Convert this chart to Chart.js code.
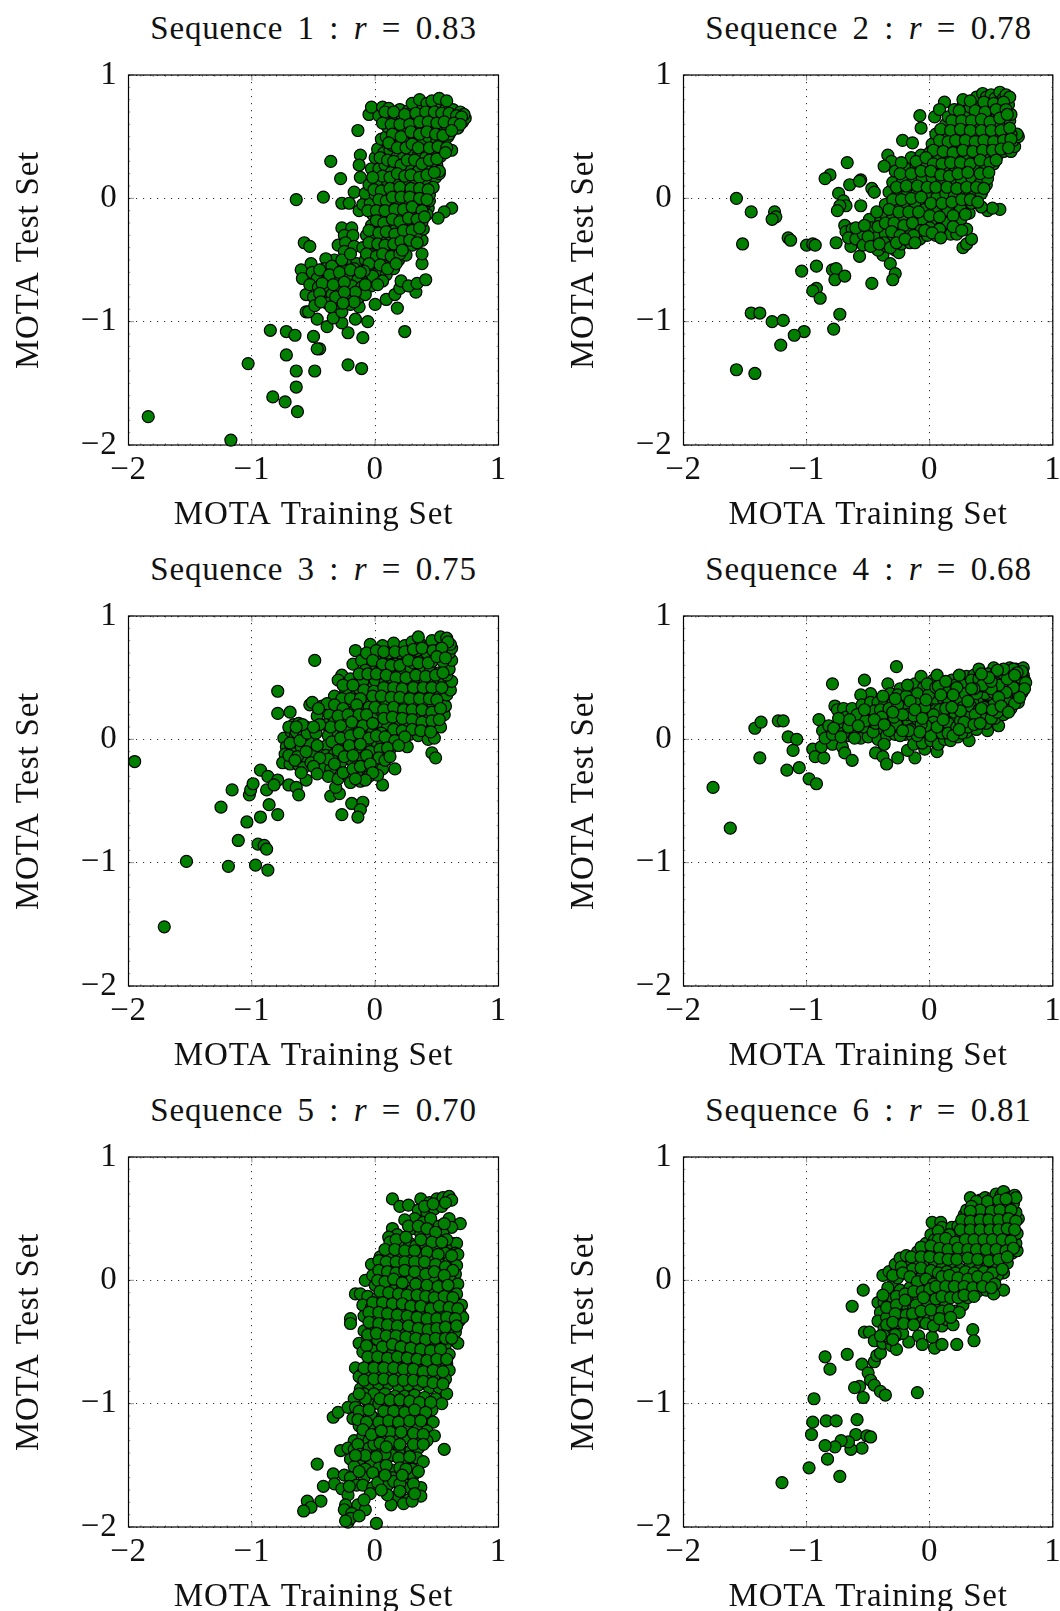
<!DOCTYPE html>
<html>
<head>
<meta charset="utf-8">
<title>MOTA scatter</title>
<script src="https://cdn.jsdelivr.net/npm/chart.js@4/dist/chart.umd.min.js"></script>
<style>
html, body { margin: 0; padding: 0; background: #fff; }
body { position: relative; width: 1060px; height: 1611px; overflow: hidden; }
canvas { position: absolute; }
.seqTitle {
  position: absolute; width: 530px; text-align: center; white-space: nowrap; color: #111;
  font: 33px "Liberation Serif", serif; letter-spacing: 0.8px; word-spacing: 5.4px; line-height: 36px;
}
</style>
</head>
<body>
<script>
// [training, test]
const seq1 = [[-1.84,-1.77],[-1.17,-1.96],[-1.03,-1.34],[-.85,-1.07],[-.72,-1.08],[-.65,-1.11],[-.72,-1.27],[-.64,-1.4],[-.64,-1.53],[-.83,-1.61],[-.73,-1.65],[-.63,-1.73],[-.5,-1.12],[-.45,-1.22],[-.47,-1.22],[-.49,-1.4],[-.22,-1.35],[-.11,-1.38],[-.22,-1.09],[-.1,-1.13],[.24,-1.08],[-.39,-1.04],[-.27,-1.01],[-.34,-.97],[-.16,-.98],[-.06,-1],[.18,-.89],[-.47,-.98],[-.56,-.92],[-.54,-.92],[-.27,-.92],[-.13,-.88],[0,-.86],[.09,-.82],[.16,-.78],[.2,-.73],[.21,-.67],[.33,-.76],[.27,-.71],[.34,-.69],[.41,-.66],[.38,-.53],[.38,-.45],[.38,-.34],[.62,-.08],[.56,-.11],[.51,-.16],[.43,-.08],[-.64,-.01],[-.42,.01],[-.27,-.04],[-.21,-.04],[-.17,.05],[-.13,-.1],[-.28,.16],[-.36,.3],[-.14,.55],[-.12,.35],[-.13,.27],[-.12,.17],[-.575,-.36],[-.53,-.39],[-.6,-.58],[-.59,-.65],[-.56,-.78],[-.52,-.53],
[-.27,-.24],[-.19,-.24],[-.25,-.3],[-.18,-.3],[-.3,-.38],[-.24,-.36],[-.17,-.39],[-.25,-.43],[-.33,-.5],[-.4,-.49],[-.3,-.55],[-.22,-.5],[-.15,-.53],[-.41,-.57],[-.34,-.6],[-.25,-.58],[-.17,-.57],[-.51,-.6],[-.47,-.65],[-.39,-.66],[-.31,-.65],[-.22,-.63],[-.14,-.66],[-.06,-.65],[-.53,-.7],[-.46,-.72],[-.37,-.74],[-.28,-.72],[-.19,-.71],[-.11,-.72],[-.03,-.71],[-.5,-.8],[-.42,-.8],[-.35,-.78],[-.3,-.85],[-.22,-.8],[-.13,-.8],[-.08,-.78],[-.49,-.87],[-.39,-.85],[-.2,-.86],
[-.1,-.4],[-.04,-.44],[.03,-.41],[.1,-.43],[.17,-.41],[.24,-.38],[.3,-.38],[-.08,-.5],[-.01,-.52],[.07,-.5],[.13,-.53],[.19,-.5],[.25,-.46],[-.05,-.59],[.03,-.6],[.09,-.62],[.15,-.57],[-.07,-.3],[0,-.33],[.06,-.3],[.13,-.35],[.2,-.31],[.27,-.3],[.34,-.28],[.39,-.25],[-.03,-.22],[.04,-.24],[.1,-.22],[.17,-.25],[.24,-.2],[.31,-.22],[.38,-.19],[.42,-.13],[-.02,-.13],[.06,-.15],[.14,-.12],[.21,-.14],[.28,-.11],[.35,-.12],[-.1,-.05],[-.04,-.04],[.04,-.07],[.11,-.04],[.19,-.06],[.25,-.02],[.32,-.03],[.4,-.05],[.44,-.02],[-.08,.04],[0,.03],[.08,.02],[.16,.05],[.24,.06],[.32,.04],[.38,.07],[.44,.03],[-.05,.11],[.03,.11],[.1,.14],[.17,.13],[.25,.14],[.33,.12],[.41,.12],[.49,.17],[.52,.2],[.47,.09],
[-.03,.24],[.03,.24],[.08,.27],[.13,.21],[.2,.29],[.28,.24],[.35,.22],[.44,.25],[.5,.27],[.52,.22],[0,.33],[.02,.4],[.07,.37],[.12,.39],[.18,.34],[.23,.33],[.29,.36],[.35,.35],[.41,.33],[.47,.38],[.53,.34],[.54,.42],[.05,.48],[.09,.5],[.14,.43],[.21,.45],[.27,.5],[.32,.49],[.38,.45],[.43,.5],[.5,.47],[.56,.46],[.62,.39],[.59,.5],[.1,.58],[.18,.55],[.25,.56],[.32,.58],[.4,.55],[.46,.58],[.52,.55],[.59,.57],[.62,.6],[.67,.57],[.6,.52],[-.05,.68],[.03,.67],[.1,.63],[.16,.66],[.22,.64],[.31,.65],[.39,.66],[.47,.65],[.55,.66],[.62,.65],[.68,.64],[.71,.62],[.73,.65],[-.03,.74],[.06,.74],[.11,.73],[.2,.72],[.27,.71],[.35,.72],[.44,.73],[.5,.74],[.57,.72],[.63,.72],[.69,.7],[.72,.68],[.3,.77],[.36,.8],[.42,.77],[.46,.79],[.52,.81],[.58,.79]];
const seq1More = [[.08,.7],[.15,.7],[.24,.68],[.33,.69],[.41,.7],[.48,.7],[.54,.69],[.6,.69],[.66,.67],[.7,.66],[.06,.61],[.13,.6],[.2,.6],[.28,.6],[.36,.62],[.43,.62],[.5,.61],[.56,.62],[.64,.61],[.69,.6],[.14,.52],[.21,.5],[.29,.54],[.36,.52],[.42,.54],[.49,.52],[.55,.51],[.62,.55],[.11,.45],[.18,.41],[.25,.41],[.3,.44],[.35,.41],[.44,.41],[.51,.42],[.58,.41],[.04,.33],[.1,.31],[.15,.3],[.21,.27],[.26,.31],[.32,.31],[.38,.28],[.44,.31],[.5,.32],[.57,.37],[.06,.18],[.12,.17],[.18,.2],[.24,.18],[.29,.19],[.36,.17],[.42,.19],[.48,.21],[-.02,.17],[-.01,.07],[.05,.06],[.12,.08],[.2,.09],[.29,.08],[.36,.08],[.43,.07],[.03,-.01],[.09,-.02],[.14,.01],[.21,.01],[.28,.01],[.36,0],[.42,-.01],[-.06,-.1],[.01,-.1],[.08,-.1],[.16,-.09],[.23,-.09],[.3,-.07],[.38,-.1],[.01,-.18],[.07,-.2],[.14,-.17],[.2,-.19],[.27,-.16],[.34,-.17],[.4,-.15],[-.05,-.26],[.03,-.28],[.09,-.27],[.16,-.29],[.23,-.26],[.3,-.26],[.36,-.24],[-.05,-.36],[.02,-.37],[.08,-.38],[.15,-.37],[.21,-.35],[.28,-.34],[.34,-.36],[-.07,-.45],[.01,-.47],[.06,-.45],[.13,-.47],[.2,-.45],[.22,-.42],[-.05,-.53],[.04,-.54],[.1,-.57],[.17,-.53],[-.02,-.63],[.06,-.67],[.02,-.7],[-.09,-.59],[-.35,-.55],[-.27,-.5],[-.2,-.45],[-.45,-.58],[-.37,-.62],[-.29,-.6],[-.2,-.58],[-.12,-.6],[-.43,-.69],[-.34,-.7],[-.25,-.68],[-.16,-.76],[-.08,-.7],[-.45,-.77],[-.32,-.8],[-.25,-.76],[-.17,-.84],[-.44,-.84],[-.36,-.88],[-.26,-.85]];

const seq2 = [[-1.57,0],[-1.45,-.11],[-1.26,-.11],[-1.25,-.15],[-1.28,-.17],[-1.15,-.32],[-1.13,-.34],[-1.52,-.37],[-1,-.38],[-.95,-.37],[-.93,-.38],[-.76,-.36],[-.92,-.55],[-1.04,-.59],[-.79,-.58],[-.76,-.57],[-.77,-.66],[-.69,-.63],[-.47,-.69],[-.92,-.73],[-.95,-.75],[-.89,-.81],[-1.45,-.93],[-1.38,-.93],[-1.28,-1],[-1.19,-.99],[-1.02,-1.08],[-1.1,-1.11],[-1.21,-1.19],[-.73,-.94],[-.78,-1.06],[-1.57,-1.39],[-1.42,-1.42],[-.67,.29],[-.81,.19],[-.85,.16],[-.65,.11],[-.56,.15],[-.57,.14],[-.47,.08],[-.45,.05],[-.74,.04],[-.7,-.02],[-.68,-.06],[-.73,-.06],[-.75,-.1],[-.56,-.06],[-.08,.67],[-.07,.57],[-.22,.47],[-.14,.45],[-.34,.35],[-.31,.3],[-.37,.26],[.12,.78],[.04,.66],[.08,.72],[.27,-.4],[.3,-.37],[.34,-.33],[.57,-.09],[.47,-.1],[.51,-.08],[.42,-.07],[-.38,-.46],[-.32,-.53],[-.28,-.61],[-.3,-.66],[-.57,-.47],[-.64,-.39],[-.69,-.22],
[-.68,-.27],[-.63,-.25],[-.66,-.32],[-.6,-.33],[-.54,-.29],[-.49,-.17],[-.47,-.24],[-.54,-.38],[-.46,-.36],[-.42,-.31],[-.4,-.19],[-.42,-.42],[-.35,-.39],[-.28,-.42],[-.25,-.44],[-.36,-.29],[-.3,-.33],[-.23,-.37],[-.16,-.36],[-.08,-.33],[-.02,-.3],[-.33,-.21],[-.25,-.23],[-.18,-.28],[-.1,-.24],[.05,-.3],[.12,-.28],[.17,-.29],[.22,-.29],[-.37,-.12],[-.3,-.14],[-.22,-.16],[-.13,-.15],[-.05,-.18],[.03,-.2],[.1,-.22],[.15,-.2],[.25,-.18],[.3,-.25],[-.36,-.05],[-.28,-.06],[-.2,-.07],[-.12,-.04],[-.04,-.09],[.05,-.11],[.15,-.1],[.25,-.08],[.32,-.12],[.34,-.04],[-.33,.05],[-.26,.03],[-.18,.04],[-.1,.06],[-.02,.01],[.06,.01],[.13,.04],[.2,.02],[.28,.04],[.35,.02],[.42,.04],[.46,.11],[-.3,.13],[-.22,.16],[-.14,.13],[-.06,.16],[.02,.17],[.1,.14],[.18,.12],[.26,.14],[.34,.17],[.41,.12],[.47,.16],[-.28,.22],[-.19,.24],[-.11,.26],[-.03,.28],[.05,.22],[.13,.23],[.2,.26],[.29,.24],[.37,.26],[.45,.24],[.52,.28],[-.15,.33],[-.07,.35],[0,.37],[.07,.33],[.15,.32],[.23,.35],[.31,.32],[.39,.36],[.47,.33],[.55,.35],[.6,.38],[.66,.38],[.69,.42],[.02,.44],[.1,.42],[.17,.41],[.25,.45],[.33,.42],[.41,.44],[.49,.42],[.56,.44],[.63,.44],[.68,.47],[.72,.5],[.71,.52],[.05,.52],[.12,.5],[.22,.52],[.3,.5],[.39,.5],[.47,.5],[.55,.5],[.62,.5],[.66,.52],[.13,.6],[.21,.6],[.29,.57],[.37,.6],[.45,.58],[.53,.6],[.61,.58],[.65,.63],[.15,.66],[.24,.67],[.32,.68],[.4,.69],[.5,.67],[.58,.7],[.66,.68],[.2,.72],[.27,.75],[.33,.74],[.41,.76],[.48,.72],[.59,.74],[.64,.76],[.27,.8],[.38,.82],[.43,.85],[.46,.82],[.5,.84],[.53,.81],[.57,.86],[.6,.81],[.62,.84],[.65,.82]];
const seq2More = [[.33,.79],[.44,.78],[.52,.77],[.6,.78],[.24,.71],[.37,.71],[.45,.7],[.54,.72],[.62,.72],[.18,.63],[.26,.63],[.34,.63],[.42,.64],[.49,.62],[.57,.65],[.63,.68],[.09,.56],[.17,.55],[.25,.56],[.33,.55],[.42,.55],[.5,.55],[.58,.55],[.65,.57],[.08,.47],[.15,.46],[.21,.47],[.29,.47],[.37,.46],[.44,.47],[.52,.46],[.6,.47],[.66,.48],[.03,.39],[.11,.38],[.19,.37],[.27,.39],[.35,.38],[.43,.39],[.51,.39],[.58,.4],[.64,.41],[-.11,.3],[-.03,.33],[.03,.28],[.1,.28],[.17,.29],[.25,.29],[.33,.28],[.41,.31],[.49,.29],[.54,.31],[-.23,.29],[-.24,.2],[-.15,.2],[-.07,.22],[.01,.22],[.09,.19],[.16,.18],[.23,.2],[.31,.21],[.41,.2],[.48,.21],[-.27,.09],[-.19,.1],[-.1,.1],[-.02,.09],[.05,.09],[.14,.09],[.22,.08],[.3,.09],[.38,.09],[.44,.08],[-.3,-.01],[-.23,-.01],[-.15,0],[-.07,.01],[.01,-.04],[.1,-.04],[.18,-.03],[.26,-.01],[.33,-.01],[.39,-.03],[-.33,-.09],[-.25,-.11],[-.17,-.11],[-.09,-.11],[0,-.14],[.08,-.15],[.19,-.14],[.29,-.13],[-.43,-.11],[-.42,-.23],[-.36,-.2],[-.29,-.2],[-.21,-.22],[-.14,-.2],[-.07,-.26],[0,-.24],[.08,-.25],[.19,-.23],[.26,-.26],[-.6,-.24],[-.53,-.22],[-.37,-.36],[-.31,-.27],[-.24,-.3],[-.13,-.3],[-.04,-.26],[.02,-.28],[.09,-.32],[-.5,-.31],[-.48,-.39],[-.41,-.37],[-.32,-.4],[-.27,-.36],[-.2,-.33],[-.12,-.36]];

const seq3 = [[-1.95,-.18],[-1.71,-1.52],[-1.53,-.99],[-1.19,-1.03],[-.97,-1.02],[-.87,-1.06],[-1.11,-.82],[-.95,-.85],[-.9,-.86],[-.88,-.89],[-1.04,-.67],[-.93,-.63],[-1.25,-.55],[-1.16,-.41],[-1.02,-.45],[-1.01,-.41],[-.99,-.36],[-.86,-.53],[-.79,-.61],[-.88,-.41],[-.93,-.25],[-.87,-.3],[-.79,-.33],[-.82,-.37],[-.7,-.37],[-.64,-.39],[-.62,-.45],[-.56,-.33],[-.79,.39],[-.79,.21],[-.69,.22],[-.49,.64],[-.53,.28],[-.51,.3],[-.27,-.61],[-.19,-.52],[-.1,-.51],[-.12,-.57],[-.14,-.63],[-.36,-.46],[-.29,-.44],[-.32,-.39],[.06,-.37],[.16,-.24],[.46,-.11],[.49,-.15],[.26,-.06],[-.16,.72],[-.18,.61],[-.11,.64],[-.04,.77],[-.27,.52],[-.3,.48],
[-.74,.01],[-.68,.06],[-.72,-.06],[-.65,.02],[-.73,-.12],[-.66,-.1],[-.6,-.06],[-.54,-.02],[-.75,-.19],[-.69,-.2],[-.62,-.21],[-.55,-.17],[-.5,-.11],[-.62,.09],[-.56,.1],[-.66,.12],[-.47,.19],[-.43,.27],[-.37,.2],[-.3,.27],[-.22,.3],[-.4,.12],[-.33,.14],[-.26,.17],[-.18,.22],[-.1,.25],[-.38,.03],[-.3,.05],[-.22,.08],[-.14,.12],[-.06,.15],[.02,.2],[-.39,-.05],[-.32,-.03],[-.25,-.01],[-.17,.01],[-.09,.04],[-.02,.07],[.06,.1],[-.4,-.13],[-.33,-.12],[-.24,-.09],[-.15,-.08],[-.07,-.05],[.02,-.04],[.1,-.02],[-.42,-.23],[-.36,-.24],[-.28,-.19],[-.19,-.17],[-.1,-.15],[-.02,-.12],[.07,-.11],[.12,-.08],[-.38,-.3],[-.3,-.32],[-.22,-.3],[-.15,-.28],[-.08,-.23],[.01,-.22],[.06,-.24],[-.2,-.35],[-.12,-.34],[-.05,-.3],[.02,-.29],
[.04,.01],[.12,.04],[.2,.01],[.28,.04],[.35,.03],[.43,0],[.48,.01],[.1,.1],[.18,.14],[.25,.11],[.33,.11],[.41,.1],[.49,.11],[.53,.1],[.04,.24],[.11,.2],[.19,.22],[.27,.2],[.34,.2],[.42,.18],[.5,.19],[.56,.2],[-.15,.37],[-.07,.33],[.02,.31],[.09,.28],[.17,.31],[.24,.28],[.32,.28],[.39,.29],[.47,.27],[.54,.31],[.57,.27],[-.24,.4],[-.13,.41],[-.05,.43],[.03,.4],[.11,.37],[.19,.39],[.27,.37],[.35,.39],[.43,.37],[.51,.37],[.58,.36],[.61,.4],[-.2,.49],[-.1,.47],[0,.48],[.08,.46],[.15,.47],[.23,.45],[.31,.47],[.4,.45],[.48,.46],[.56,.46],[.62,.47],[.58,.52],[-.03,.58],[.05,.56],[.13,.54],[.21,.55],[.29,.58],[.37,.55],[.45,.56],[.52,.54],[.6,.57],[.62,.64],[.02,.64],[.09,.66],[.16,.61],[.23,.65],[.31,.62],[.39,.66],[.46,.63],[.55,.63],[.6,.7],[.11,.7],[.2,.7],[.27,.71],[.34,.72],[.42,.7],[.5,.73],[.57,.72],[.62,.74],[.06,.76],[.15,.78],[.24,.76],[.3,.79],[.37,.77],[.44,.76],[.52,.78],[.61,.77],[.35,.83],[.46,.8],[.53,.83],[.58,.82],[.59,.79]];
const seq3More = [[-.07,.7],[.01,.72],[.07,.71],[.16,.71],[.24,.71],[.31,.73],[.38,.74],[.47,.72],[.54,.74],[-.08,.56],[-.02,.64],[.06,.61],[.13,.6],[.2,.6],[.27,.64],[.35,.62],[.43,.62],[.5,.67],[.57,.66],[-.13,.53],[-.06,.53],[.01,.53],[.09,.52],[.17,.5],[.25,.5],[.33,.52],[.41,.51],[.49,.52],[.55,.54],[-.26,.44],[-.18,.44],[-.09,.4],[-.01,.39],[.07,.42],[.15,.42],[.22,.41],[.31,.42],[.39,.42],[.46,.42],[.54,.42],[-.33,.35],[-.27,.33],[-.2,.33],[-.12,.33],[-.02,.35],[.05,.35],[.13,.34],[.2,.34],[.28,.33],[.36,.33],[.44,.33],[.5,.32],[-.39,.29],[-.33,.28],[-.26,.25],[-.15,.28],[-.05,.26],[0,.26],[.07,.24],[.15,.26],[.23,.24],[.3,.24],[.38,.24],[.46,.22],[.53,.25],[-.46,.25],[-.3,.19],[-.22,.2],[-.13,.2],[-.07,.2],[.07,.17],[.14,.18],[.22,.17],[.3,.16],[.38,.14],[.46,.15],[.52,.16],[-.36,.1],[-.28,.11],[-.19,.14],[-.1,.11],[-.02,.13],[.05,.05],[.15,.08],[.22,.07],[.3,.08],[.37,.07],[.45,.06],[-.35,-.02],[-.28,.01],[-.2,.03],[-.13,.05],[-.05,.01],[.01,.03],[.08,.02],[.16,-.01],[.24,.02],[-.38,-.16],[-.3,-.09],[-.21,-.05],[-.12,-.04],[-.04,-.1],[.04,-.08],[.1,-.07],[.19,-.05],[-.33,-.2],[-.25,-.14],[-.18,-.13],[-.07,-.13],[.03,-.15],[.08,-.17],[.12,-.14],[-.26,-.27],[-.18,-.24],[-.12,-.22],[-.04,-.2],[-.02,-.27],[-.08,-.33],[-.16,-.32],[-.7,.1],[-.64,.06],[-.58,.03],[-.69,-.03],[-.61,-.01],[-.55,.05],[-.7,-.13],[-.63,-.14],[-.56,-.1],[-.65,-.17],[-.58,-.23],[-.52,-.19],[-.62,.13],[-.59,.12],[-.64,.1],[-.48,.05],[-.45,.12],[-.5,.1],[-.47,-.05],[-.45,-.15],[-.5,-.22],[-.47,-.28],[-.6,-.27]];

const seq4 = [[-1.76,-.39],[-1.62,-.72],[-1.38,-.15],[-1.42,.09],[-1.37,.14],[-1.23,.15],[-1.19,.15],[-1.15,.02],[-1.08,0],[-1.11,-.09],[-1.16,-.25],[-1.06,-.23],[-.98,-.32],[-.92,-.36],[-.95,-.08],[-.93,-.14],[-.86,-.15],[-.88,-.06],[-.79,-.04],[-.71,-.06],[-.69,-.11],[-.63,-.17],[-.79,.45],[-.53,.48],[-.27,.59],[-.34,.45],[-.48,.37],[-.56,.36],[-.77,.27],[-.9,.16],[-.44,-.11],[-.38,-.14],[-.35,-.2],[-.26,-.15],[-.12,-.15],[-.18,-.09],[-.04,-.08],[.06,-.1],[.32,-.01],[.47,.07],[.56,.11],
[-.87,.07],[-.82,.11],[-.85,.01],[-.79,.04],[-.73,.1],[-.75,.24],[-.7,.25],[-.68,.18],[-.74,.17],[-.66,.03],[-.6,.06],[-.62,.13],[-.63,.25],[-.56,.16],[-.55,.28],[-.5,.21],[-.56,.01],[-.5,.02],[-.48,.11],[-.43,.18],[-.48,.3],[-.42,.3],[-.4,.08],[-.42,0],[-.35,.03],[-.37,-.04],[-.32,.11],[-.35,.19],[-.37,.28],[-.32,.37],[-.3,.29],[-.25,.2],[-.28,.04],[-.22,.1],[-.24,.41],[-.22,.33],[-.2,.04],[-.14,.03],[-.17,.14],[-.15,.25],[-.14,.37],[-.12,.45],[-.07,.51],[-.1,.1],[-.08,.22],[-.06,.32],[-.05,.42],[-.13,-.04],[-.06,-.03],[-.04,.06],[-.01,.17],[.01,.28],[.02,.39],[.03,.48],[.01,-.01],[.04,.08],[.07,.19],[.09,.29],[.08,.38],[.1,.46],[.07,-.04],[.12,0],[.12,.1],[.14,.2],[.16,.3],[.17,.4],[.18,.48],[.17,-.01],[.18,.07],[.2,.15],[.23,.26],[.22,.37],[.24,.46],[.23,.02],[.26,.1],[.27,.19],[.29,.32],[.3,.42],[.3,.51],[.3,.06],[.33,.14],[.35,.24],[.36,.35],[.37,.46],[.36,.52],[.38,.08],[.41,.18],[.43,.3],[.42,.4],[.43,.5],[.4,.57],[.46,.13],[.49,.21],[.5,.33],[.48,.44],[.5,.54],[.52,.58],[.53,.17],[.56,.26],[.57,.38],[.55,.5],[.58,.56],[.6,.2],[.63,.3],[.62,.44],[.63,.53],[.66,.25],[.69,.35],[.68,.48],[.7,.57],[.65,.58],[.72,.3],[.75,.38],[.74,.46],[.71,.42],[.76,.43],[.76,.52],[.74,.56],[.77,.48],[.72,.52],[.76,.58],[.6,.36],[.53,.46],[.45,.37],[.39,.3],[.33,.44],[.27,.38],[.2,.31],[.13,.37],[.05,.33],[0,.23],[-.1,.37],[-.2,.27],[-.27,.12],[-.45,.23],[.25,.32],[.35,.3],[.47,.27],[.1,.25],[.18,.1]];
const seq4More = [[-.78,.09],[-.7,.05],[-.66,.1],[-.59,.2],[-.54,.1],[-.46,.06],[-.44,.13],[-.4,.24],[-.33,.25],[-.29,.18],[-.26,.28],[-.26,.36],[-.33,.07],[-.24,.03],[-.18,.2],[-.19,.35],[-.18,.44],[-.15,.08],[-.1,.03],[-.1,.16],[-.11,.29],[-.01,.36],[-.02,.45],[0,.1],[.01,.03],[.04,.15],[.05,.24],[.05,.42],[.06,.52],[.08,.13],[.1,.05],[.11,.33],[.13,.42],[.14,.27],[.15,.13],[.15,.05],[.2,.22],[.21,.44],[.22,.1],[.25,.15],[.27,.26],[.27,.44],[.26,.05],[.31,.1],[.32,.2],[.33,.27],[.33,.37],[.34,.48],[.39,.15],[.4,.24],[.38,.37],[.39,.43],[.4,.49],[.44,.2],[.46,.26],[.45,.43],[.46,.48],[.47,.53],[.5,.17],[.52,.28],[.52,.38],[.53,.52],[.55,.22],[.58,.32],[.59,.42],[.59,.48],[.6,.53],[.62,.26],[.65,.33],[.66,.39],[.64,.46],[.67,.54],[.69,.29],[.72,.36],[.7,.46],[.73,.41],[.74,.5],[.75,.55],[.68,.57],[.71,.54],[.78,.46],[.77,.41],[.73,.34],[.68,.42],[.62,.38],[.56,.44],[.5,.41],[.43,.44],[.36,.41],[.29,.37],[.22,.42],[.15,.33],[.08,.24],[.03,.2],[-.04,.26],[-.13,.19],[-.22,.2],[-.3,.22],[.07,.43],[.13,.25],[.19,.36],[.25,.23],[.31,.31],[.37,.2],[.44,.26],[.5,.47],[.56,.34],[.63,.49],[.69,.52],[.6,.57],[.55,.56],[.48,.5],[.42,.53],[.34,.41],[.24,.52],[.13,.47],[.03,.14],[-.03,.11],[-.07,.12],[-.17,.07],[-.39,.18],[-.52,.15],[-.61,.01],[-.72,.02],[-.65,.16],[-.58,.11],[-.53,.24],[-.45,.16],[-.37,.12],[-.38,.35],[-.28,.33],[-.22,.07],[-.16,.31],[-.12,.24],[-.08,.06],[-.06,.17],[-.03,.32],[.06,.1],[.11,.16],[.09,.36],[.19,.03],[.18,.26],[.28,.14],[.24,.08],[.36,.12],[.42,.25],[.41,.13],[.51,.24],[.58,.27],[.64,.22]];

const seq5 = [[.14,.66],[.2,.6],[.27,.61],[-.08,0],[-.2,-.31],[-.2,-.35],[-.16,-.11],[-.12,-.11],[-.34,-1.11],[-.3,-1.07],[-.28,-1.38],[-.47,-1.49],[-.34,-1.57],[-.33,-1.65],[-.42,-1.67],[-.44,-1.79],[-.55,-1.79],[-.52,-1.84],[-.58,-1.87],[.01,-1.97],[-.22,-1.96],[.56,-1.37],[.69,.46],[.67,-.51],[.68,-.33],
[.37,.66],[.44,.63],[.5,.66],[.55,.67],[.6,.68],[.62,.65],[.35,.57],[.42,.55],[.48,.58],[.54,.6],[.32,.5],[.24,.49],[.39,.47],[.45,.5],[.52,.44],[.6,.5],[.62,.43],[.14,.42],[.18,.37],[.11,.35],[.3,.42],[.37,.38],[.45,.36],[.55,.38],[.62,.3],[.66,.3],[.12,.31],[.2,.28],[.28,.3],[.33,.28],[.41,.29],[.5,.27],[.57,.22],[.65,.22],[.67,.21],[.04,.19],[.12,.2],[.2,.2],[.27,.19],[.36,.2],[.46,.17],[.53,.13],[.6,.15],[.66,.12],[0,.12],[-.03,.13],[.07,.12],[.14,.09],[.2,.11],[.28,.11],[.36,.11],[.44,.1],[.51,.05],[.59,.07],[.65,.05],[-.02,.04],[.05,.03],[.11,.02],[.18,0],[.25,.03],[.3,.02],[.38,0],[.47,.01],[.55,-.02],[.62,-.01],[.67,-.03],[0,-.04],[.08,-.05],[.15,-.08],[.22,-.07],[.3,-.08],[.37,-.08],[.44,-.1],[.52,-.11],[.6,-.1],[.66,-.11],[-.06,-.13],[.02,-.14],[.09,-.15],[.17,-.14],[.25,-.16],[.33,-.17],[.41,-.18],[.48,-.2],[.57,-.17],[.65,-.18],[.7,-.2],[-.1,-.2],[-.03,-.22],[.05,-.22],[.13,-.24],[.21,-.23],[.29,-.25],[.37,-.26],[.45,-.27],[.53,-.25],[.62,-.27],[.69,-.27],[.71,-.3],[-.09,-.29],[-.01,-.3],[.07,-.31],[.15,-.32],[.23,-.33],[.31,-.33],[.39,-.35],[.47,-.36],[.55,-.33],[.62,-.35],[-.09,-.41],[-.02,-.38],[.05,-.39],[.13,-.41],[.21,-.42],[.29,-.41],[.37,-.43],[.45,-.44],[.53,-.42],[.6,-.43],[.65,-.42],[-.13,-.51],[-.06,-.48],[.02,-.48],[.1,-.5],[.17,-.49],[.25,-.5],[.33,-.52],[.41,-.53],[.49,-.52],[.57,-.52],[-.1,-.58],[-.02,-.57],[.06,-.6],[.14,-.56],[.22,-.59],[.3,-.6],[.38,-.6],[.46,-.61],[.55,-.6],[.6,-.6],[-.05,-.67],[.03,-.66],[.1,-.67],[.18,-.67],[.26,-.67],[.34,-.68],[.42,-.7],[.5,-.69],[.58,-.68],[-.16,-.71],[-.11,-.76],[-.13,-.78],[-.05,-.76],[.03,-.74],[.11,-.77],[.19,-.75],[.27,-.77],[.35,-.76],[.43,-.78],[.51,-.78],[.6,-.73],[.57,-.8],[-.12,-.88],[-.05,-.85],[.03,-.84],[.11,-.84],[.19,-.86],[.27,-.85],[.35,-.85],[.44,-.87],[.52,-.87],[.58,-.92],[-.17,-.96],[-.09,-.92],[-.01,-.92],[.08,-.92],[.16,-.94],[.24,-.94],[.32,-.93],[.4,-.95],[.49,-.96],[.54,-1],[-.22,-1.03],[-.16,-1.03],[-.05,-1],[.03,-1],[.11,-1.02],[.2,-1.01],[.27,-1.04],[.36,-1.02],[.46,-1.05],[-.18,-1.12],[-.1,-1.09],[-.03,-1.1],[.06,-1.11],[.14,-1.1],[.22,-1.12],[.32,-1.1],[.42,-1.12],[.47,-1.15],[-.13,-1.18],[-.03,-1.19],[.08,-1.18],[.16,-1.19],[.27,-1.2],[.35,-1.18],[.42,-1.22],[.48,-1.26],[-.17,-1.3],[-.1,-1.26],[-.05,-1.3],[.07,-1.28],[.17,-1.27],[.25,-1.28],[.36,-1.29],[.42,-1.3],[-.22,-1.36],[-.17,-1.37],[-.05,-1.36],[.02,-1.39],[.12,-1.37],[.19,-1.39],[.29,-1.38],[.35,-1.36],[-.2,-1.45],[-.13,-1.46],[-.03,-1.47],[.05,-1.45],[.14,-1.42],[.24,-1.46],[.34,-1.44],[.39,-1.47],[-.17,-1.51],[-.08,-1.53],[.03,-1.52],[.15,-1.54],[.3,-1.53],[-.25,-1.58],[-.2,-1.6],[-.09,-1.6],[.04,-1.6],[.14,-1.6],[.24,-1.6],[.31,-1.58],[-.15,-1.66],[-.1,-1.66],[-.02,-1.68],[.1,-1.66],[.15,-1.63],[.25,-1.66],[.28,-1.68],[.37,-1.68],[-.27,-1.69],[-.22,-1.74],[-.04,-1.73],[.16,-1.76],[.27,-1.78],[.37,-1.75],[-.24,-1.82],[-.25,-1.86],[-.14,-1.82],[-.08,-1.86],[.13,-1.82],[.23,-1.81],[.3,-1.79],[-.19,-1.89],[-.2,-1.93],[-.13,-1.91],[-.24,-1.95]];
const seq5More = [[.4,.6],[.47,.62],[.57,.63],[.27,.44],[.35,.44],[.42,.42],[.49,.39],[.56,.46],[.58,.33],[.17,.33],[.25,.35],[.37,.33],[.46,.31],[.54,.31],[.08,.25],[.16,.25],[.24,.24],[.32,.24],[.42,.23],[.51,.21],[.62,.2],[.03,.16],[.09,.15],[.17,.15],[.24,.15],[.32,.15],[.4,.15],[.49,.13],[.57,.11],[.63,.08],[.03,.08],[.1,.07],[.17,.06],[.24,.08],[.32,.07],[.41,.05],[.48,.07],[.56,.04],[.02,0],[.08,-.01],[.15,.01],[.22,-.02],[.33,-.03],[.42,-.04],[.51,-.05],[.59,-.04],[.04,-.09],[.11,-.1],[.19,-.11],[.26,-.12],[.34,-.12],[.41,-.13],[.48,-.14],[.56,-.13],[.63,-.14],[-.02,-.18],[.06,-.18],[.14,-.19],[.22,-.19],[.29,-.21],[.37,-.21],[.45,-.23],[.52,-.21],[.6,-.22],[.67,-.23],[-.05,-.26],[.03,-.26],[.1,-.27],[.18,-.28],[.26,-.29],[.34,-.3],[.42,-.31],[.5,-.31],[.58,-.3],[.65,-.31],[-.05,-.34],[.03,-.35],[.1,-.36],[.18,-.37],[.27,-.37],[.35,-.39],[.43,-.4],[.5,-.39],[.57,-.38],[.66,-.37],[-.06,-.44],[.01,-.43],[.09,-.45],[.17,-.45],[.25,-.46],[.33,-.47],[.41,-.48],[.49,-.47],[.57,-.47],[.62,-.47],[-.07,-.53],[.06,-.54],[.14,-.52],[.21,-.54],[.29,-.55],[.37,-.56],[.45,-.57],[.53,-.56],[-.06,-.62],[.02,-.62],[.1,-.63],[.18,-.62],[.26,-.63],[.34,-.64],[.42,-.65],[.5,-.64],[.58,-.64],[-.09,-.71],[-.01,-.71],[.07,-.71],[.15,-.71],[.23,-.72],[.31,-.72],[.39,-.74],[.47,-.73],[.55,-.74],[-.09,-.81],[-.01,-.8],[.07,-.8],[.15,-.81],[.23,-.81],[.31,-.81],[.39,-.82],[.47,-.83],[.55,-.84],[-.08,-.96],[-.13,-.92],[.04,-.96],[.12,-.97],[.2,-.97],[.28,-.98],[.36,-.99],[.45,-.99],[-.13,-1.06],[-.05,-1.05],[.07,-1.06],[.15,-1.06],[.24,-1.07],[.32,-1.05],[.41,-1.07],[-.14,-1.13],[-.07,-1.15],[.03,-1.15],[.11,-1.14],[.19,-1.15],[.28,-1.14],[.37,-1.14],[-.1,-1.21],[.02,-1.24],[.12,-1.23],[.21,-1.23],[.31,-1.24],[.39,-1.25],[-.14,-1.33],[-.01,-1.33],[.04,-1.32],[.12,-1.31],[.2,-1.33],[.31,-1.33],[.39,-1.33],[-.12,-1.41],[-.08,-1.42],[.08,-1.41],[.19,-1.44],[.28,-1.43],[-.13,-1.55],[-.02,-1.56],[.09,-1.5],[.2,-1.52],[.25,-1.53],[.02,-1.64],[.2,-1.65],[.31,-1.65],[.2,-1.71],[.32,-1.73],[-.09,-1.78],[.1,-1.74],[-.16,-1.42],[.01,-1.43],[.09,-1.35],[-.03,-1.25],[.05,-1.22],[-.21,-1.67],[.08,-1.58],[.35,-1.55],[.22,-1.58],[.05,-1.7]];

const seq6 = [[-1.2,-1.64],[-.98,-1.52],[-.83,-1.45],[-.73,-1.59],[-.96,-1.25],[-.95,-1.15],[-.94,-.96],[-.84,-1.14],[-.76,-1.14],[-.59,-1.13],[-.6,-1.25],[-.51,-1.26],[-.48,-1.27],[-.55,-1.36],[-.64,-1.37],[-.66,-1.31],[-.72,-1.3],[-.77,-1.35],[-.85,-1.34],[-.85,-.62],[-.81,-.72],[-.67,-.6],[-.55,-.68],[-.5,-.75],[-.48,-.81],[-.57,-.86],[-.61,-.87],[-.54,-.95],[-.45,-.85],[-.4,-.9],[-.36,-.93],[-.1,-.91],[-.45,-.66],[-.43,-.61],[-.4,-.59],[-.63,-.21],[-.54,-.08],[-.53,-.42],[-.49,-.42],[-.45,-.49],[-.38,-.51],[-.31,-.53],[-.27,-.56],[-.17,-.5],[-.09,-.45],[-.06,-.52],[.04,-.55],[.02,-.46],[.1,-.52],[.22,-.52],[.35,-.4],[.36,-.49],[-.38,.04],[-.33,.07],[.6,-.08],[.6,.06],
[-.42,-.18],[-.37,-.18],[-.4,-.26],[-.32,-.24],[-.42,-.33],[-.35,-.3],[-.37,-.39],[-.31,-.4],[-.27,-.35],[-.33,-.47],[-.26,-.44],[-.22,-.43],[-.31,-.13],[-.3,-.04],[-.24,-.08],[-.2,-.22],[-.24,-.28],[-.17,-.33],[-.13,-.22],[-.17,-.15],[-.16,-.06],[-.09,-.14],[-.1,-.29],[-.06,-.34],[-.01,-.29],[.04,-.31],[.1,-.37],[.14,-.32],[.19,-.36],[-.03,-.19],[.02,-.12],[.07,-.21],[.13,-.19],[.21,-.25],[.27,-.2],[.31,-.14],[.09,-.07],[.17,-.09],[.24,-.08],[.32,-.05],[.39,-.09],[.46,-.08],[.52,-.11],[-.26,.02],[-.2,.08],[-.13,.02],[-.06,.04],[-.02,-.06],[.06,.01],[.12,-.01],[.19,.01],[.27,.03],[.35,.01],[.43,.03],[.5,0],[.55,.04],[-.28,.13],[-.24,.18],[-.17,.13],[-.19,.2],[-.11,.14],[-.04,.16],[.04,.14],[.1,.1],[.18,.12],[.25,.09],[.33,.13],[.4,.09],[.47,.11],[.55,.12],[.63,.14],[-.1,.23],[-.02,.24],[.04,.23],[.12,.21],[.19,.26],[.27,.2],[.36,.22],[.44,.19],[.52,.2],[.6,.21],[.67,.22],[.71,.24],[-.03,.3],[.03,.32],[.1,.31],[.17,.3],[.25,.3],[.32,.31],[.4,.28],[.48,.29],[.56,.29],[.63,.28],[.7,.3],[.01,.37],[.04,.33],[.13,.39],[.21,.35],[.29,.38],[.37,.37],[.45,.36],[.52,.38],[.6,.37],[.67,.36],[.71,.38],[.02,.47],[.09,.47],[.1,.43],[.18,.43],[.23,.44],[.3,.46],[.37,.45],[.45,.46],[.53,.44],[.6,.46],[.68,.44],[.72,.5],[.28,.53],[.34,.52],[.42,.53],[.5,.52],[.57,.53],[.63,.54],[.7,.55],[.3,.57],[.37,.59],[.46,.6],[.53,.59],[.6,.6],[.64,.58],[.68,.62],[.33,.67],[.41,.65],[.45,.67],[.5,.66],[.54,.7],[.58,.69],[.6,.72],[.65,.67],[.69,.69],[.7,.67]];
const seq6More = [[.38,.64],[.47,.64],[.56,.65],[.62,.66],[.34,.6],[.41,.57],[.5,.56],[.57,.57],[.66,.57],[.33,.56],[.26,.49],[.33,.48],[.41,.49],[.48,.49],[.56,.49],[.64,.5],[.7,.48],[.07,.4],[.16,.37],[.25,.41],[.33,.41],[.41,.41],[.49,.41],[.56,.41],[.63,.42],[.69,.41],[.07,.33],[.13,.34],[.21,.31],[.29,.33],[.36,.33],[.44,.33],[.51,.33],[.59,.33],[.66,.32],[-.07,.27],[.01,.28],[.08,.26],[.15,.25],[.23,.26],[.31,.25],[.38,.25],[.46,.25],[.54,.25],[.62,.24],[.68,.26],[-.15,.19],[-.07,.19],[0,.19],[.08,.18],[.15,.17],[.22,.17],[.31,.18],[.39,.17],[.48,.16],[.56,.17],[.63,.19],[-.23,.11],[-.14,.09],[-.07,.1],[.01,.08],[.07,.06],[.14,.07],[.21,.06],[.29,.07],[.36,.06],[.44,.07],[.51,.06],[.59,.09],[-.3,.04],[-.22,.06],[-.16,.03],[-.1,-.01],[-.03,.01],[.03,-.03],[.1,.03],[.16,.04],[.23,.02],[.31,.01],[.39,.03],[.47,.02],[.53,-.03],[-.34,-.06],[-.27,-.13],[-.2,-.11],[-.13,-.09],[-.06,-.09],[0,-.07],[.05,-.05],[.13,-.05],[.2,-.05],[.28,-.05],[.35,-.06],[.43,-.05],[.5,-.06],[-.38,-.12],[-.35,-.22],[-.27,-.2],[-.2,-.16],[-.11,-.2],[-.05,-.14],[.05,-.15],[.1,-.13],[.17,-.14],[.23,-.14],[.28,-.12],[.36,-.13],[-.35,-.36],[-.28,-.27],[-.19,-.28],[-.14,-.27],[-.07,-.25],[.01,-.24],[.1,-.25],[.16,-.24],[.24,-.26],[-.3,-.34],[-.21,-.35],[-.13,-.36],[-.03,-.35],[.03,-.37],[.08,-.31],[.17,-.3],[-.37,-.45],[-.28,-.44],[-.3,-.48],[-.4,-.45]];

const sequences = [seq1.concat(seq1More), seq2.concat(seq2More), seq3.concat(seq3More), seq4.concat(seq4More), seq5.concat(seq5More), seq6.concat(seq6More)];
const rValues = ['0.83', '0.78', '0.75', '0.68', '0.70', '0.81'];
const tickValues = [-2, -1, 0, 1];
const xLabel = 'MOTA Training Set';
const yLabel = 'MOTA Test Set';

// plot frame is the same size everywhere, only the offset inside the canvas changes
const canvasW = 530;
const rowTops = [0, 541, 1082];
const rowHeights = [541, 541, 529];
const plotTop = 75, plotSize = 370;

const frameTicks = {
  id: 'frameTicks',
  beforeDraw(chart) { chart.ctx.letterSpacing = '0.8px'; },
  beforeDatasetsDraw(chart) {
    const { ctx, chartArea: a, scales: { x, y } } = chart;
    ctx.save();
    ctx.strokeStyle = 'rgba(0,0,0,0.55)';
    ctx.lineWidth = 0.8;
    ctx.beginPath();
    for (let i = -20; i <= 10; i++) {
      const len = i % 10 === 0 ? 5.5 : 1.8;
      const px = x.getPixelForValue(i / 10), py = y.getPixelForValue(i / 10);
      ctx.moveTo(px, a.bottom); ctx.lineTo(px, a.bottom - len);
      ctx.moveTo(px, a.top); ctx.lineTo(px, a.top + len);
      ctx.moveTo(a.left, py); ctx.lineTo(a.left + len, py);
      ctx.moveTo(a.right, py); ctx.lineTo(a.right - len, py);
    }
    ctx.stroke();
    ctx.strokeStyle = '#000';
    ctx.lineWidth = 1.2;
    ctx.strokeRect(a.left, a.top, a.right - a.left, a.bottom - a.top);
    ctx.restore();
  }
};

function tickText(v) {
  return v < 0 ? '\u2212' + (-v) : String(v);
}

function axisOptions(text, titlePadding) {
  return {
    min: -2,
    max: 1,
    afterBuildTicks: axis => { axis.ticks = tickValues.map(value => ({ value })); },
    ticks: {
      callback: tickText,
      color: '#111',
      font: { family: 'Liberation Serif', size: 33 },
      maxRotation: 0
    },
    grid: { color: 'rgba(0,0,0,0.8)', lineWidth: 1, drawTicks: false },
    border: { display: false, dash: [1.2, 5.8] },
    title: {
      display: true,
      text,
      color: '#111',
      font: { family: 'Liberation Serif', size: 33, lineHeight: 0.85 },
      padding: titlePadding
    }
  };
}

sequences.forEach((points, i) => {
  const col = i % 2, row = Math.floor(i / 2);
  const left = col * 530;
  const plotLeft = col === 0 ? 128.5 : 153.5;
  const canvasH = rowHeights[row];

  const title = document.createElement('div');
  title.className = 'seqTitle';
  title.style.left = (left + plotLeft + plotSize / 2 - 265) + 'px';
  title.style.top = (rowTops[row] + 10) + 'px';
  title.innerHTML = `Sequence ${i + 1} : <i>r</i> = ${rValues[i]}`;
  document.body.appendChild(title);

  const canvas = document.createElement('canvas');
  canvas.width = canvasW;
  canvas.height = canvasH;
  canvas.style.left = left + 'px';
  canvas.style.top = rowTops[row] + 'px';
  canvas.style.width = canvasW + 'px';
  canvas.style.height = canvasH + 'px';
  document.body.appendChild(canvas);

  const xAxis = axisOptions(xLabel, { top: 0, bottom: canvasH - 529 });
  xAxis.ticks.padding = 6;
  xAxis.afterFit = axis => {
    axis.height = canvasH - plotTop - plotSize;
    axis.paddingLeft = 0;
    axis.paddingRight = 0;
  };
  const yAxis = axisOptions(yLabel, { top: col === 0 ? 15 : 40, bottom: 0 });
  yAxis.ticks.padding = 11;
  yAxis.afterFit = axis => {
    axis.width = plotLeft;
    axis.paddingTop = 0;
    axis.paddingBottom = 0;
  };

  new Chart(canvas, {
    type: 'scatter',
    data: {
      datasets: [{
        data: points.map(p => ({ x: p[0], y: p[1] })),
        backgroundColor: '#007f00',
        borderColor: '#000',
        borderWidth: 1.2,
        pointRadius: 6,
        clip: false
      }]
    },
    options: {
      responsive: false,
      animation: false,
      layout: { padding: { top: plotTop, left: 0, bottom: 0, right: canvasW - plotLeft - plotSize } },
      plugins: { legend: { display: false }, tooltip: { enabled: false } },
      scales: { x: xAxis, y: yAxis }
    },
    plugins: [frameTicks]
  });
});
</script>
</body>
</html>
